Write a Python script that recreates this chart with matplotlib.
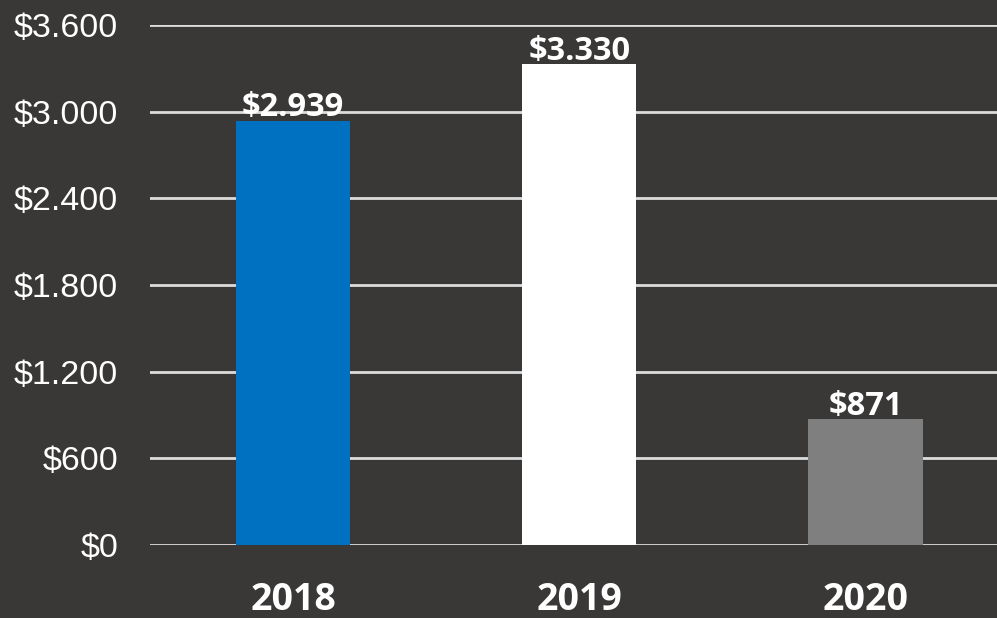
import matplotlib.pyplot as plt

years = ["2018", "2019", "2020"]
values = [2939, 3330, 871]
labels = ["$2.939", "$3.330", "$871"]
colors = ["#0070c0", "#ffffff", "#7f7f7f"]
yticks = [0, 600, 1200, 1800, 2400, 3000, 3600]
ytick_labels = ["$0", "$600", "$1.200", "$1.800", "$2.400", "$3.000", "$3.600"]

bg = "#393837"
fig = plt.figure(figsize=(9.97, 6.18), dpi=100, facecolor=bg)
ax = fig.add_axes([0.1505, 0.1181, 0.8495, 0.8414], facecolor=bg)

x = list(range(len(years)))
ax.bar(x, values, width=0.40, color=colors, zorder=3)

for xi, v, lab in zip(x, values, labels):
    ax.annotate(lab, (xi, v), xytext=(0, -2.5), textcoords="offset points",
                ha="center", va="bottom", color="white", fontsize=23.5,
                fontweight="bold", family="Open Sans", zorder=4)

ax.set_ylim(0, 3600)
ax.set_xlim(-0.5, 2.46)
ax.set_yticks(yticks)
ax.set_yticklabels(ytick_labels, family="Liberation Sans", fontsize=24.5, color="white")
ax.set_xticks(x)
ax.set_xticklabels(years, family="Open Sans", fontsize=27, fontweight="bold", color="white")
ax.tick_params(axis="y", length=0, pad=23)
ax.tick_params(axis="x", length=0, pad=26)

ax.grid(axis="y", color="#dcdcdc", linewidth=2, zorder=0)
for s in ax.spines.values():
    s.set_visible(False)

fig.savefig("out.png", dpi=100, facecolor=bg)
